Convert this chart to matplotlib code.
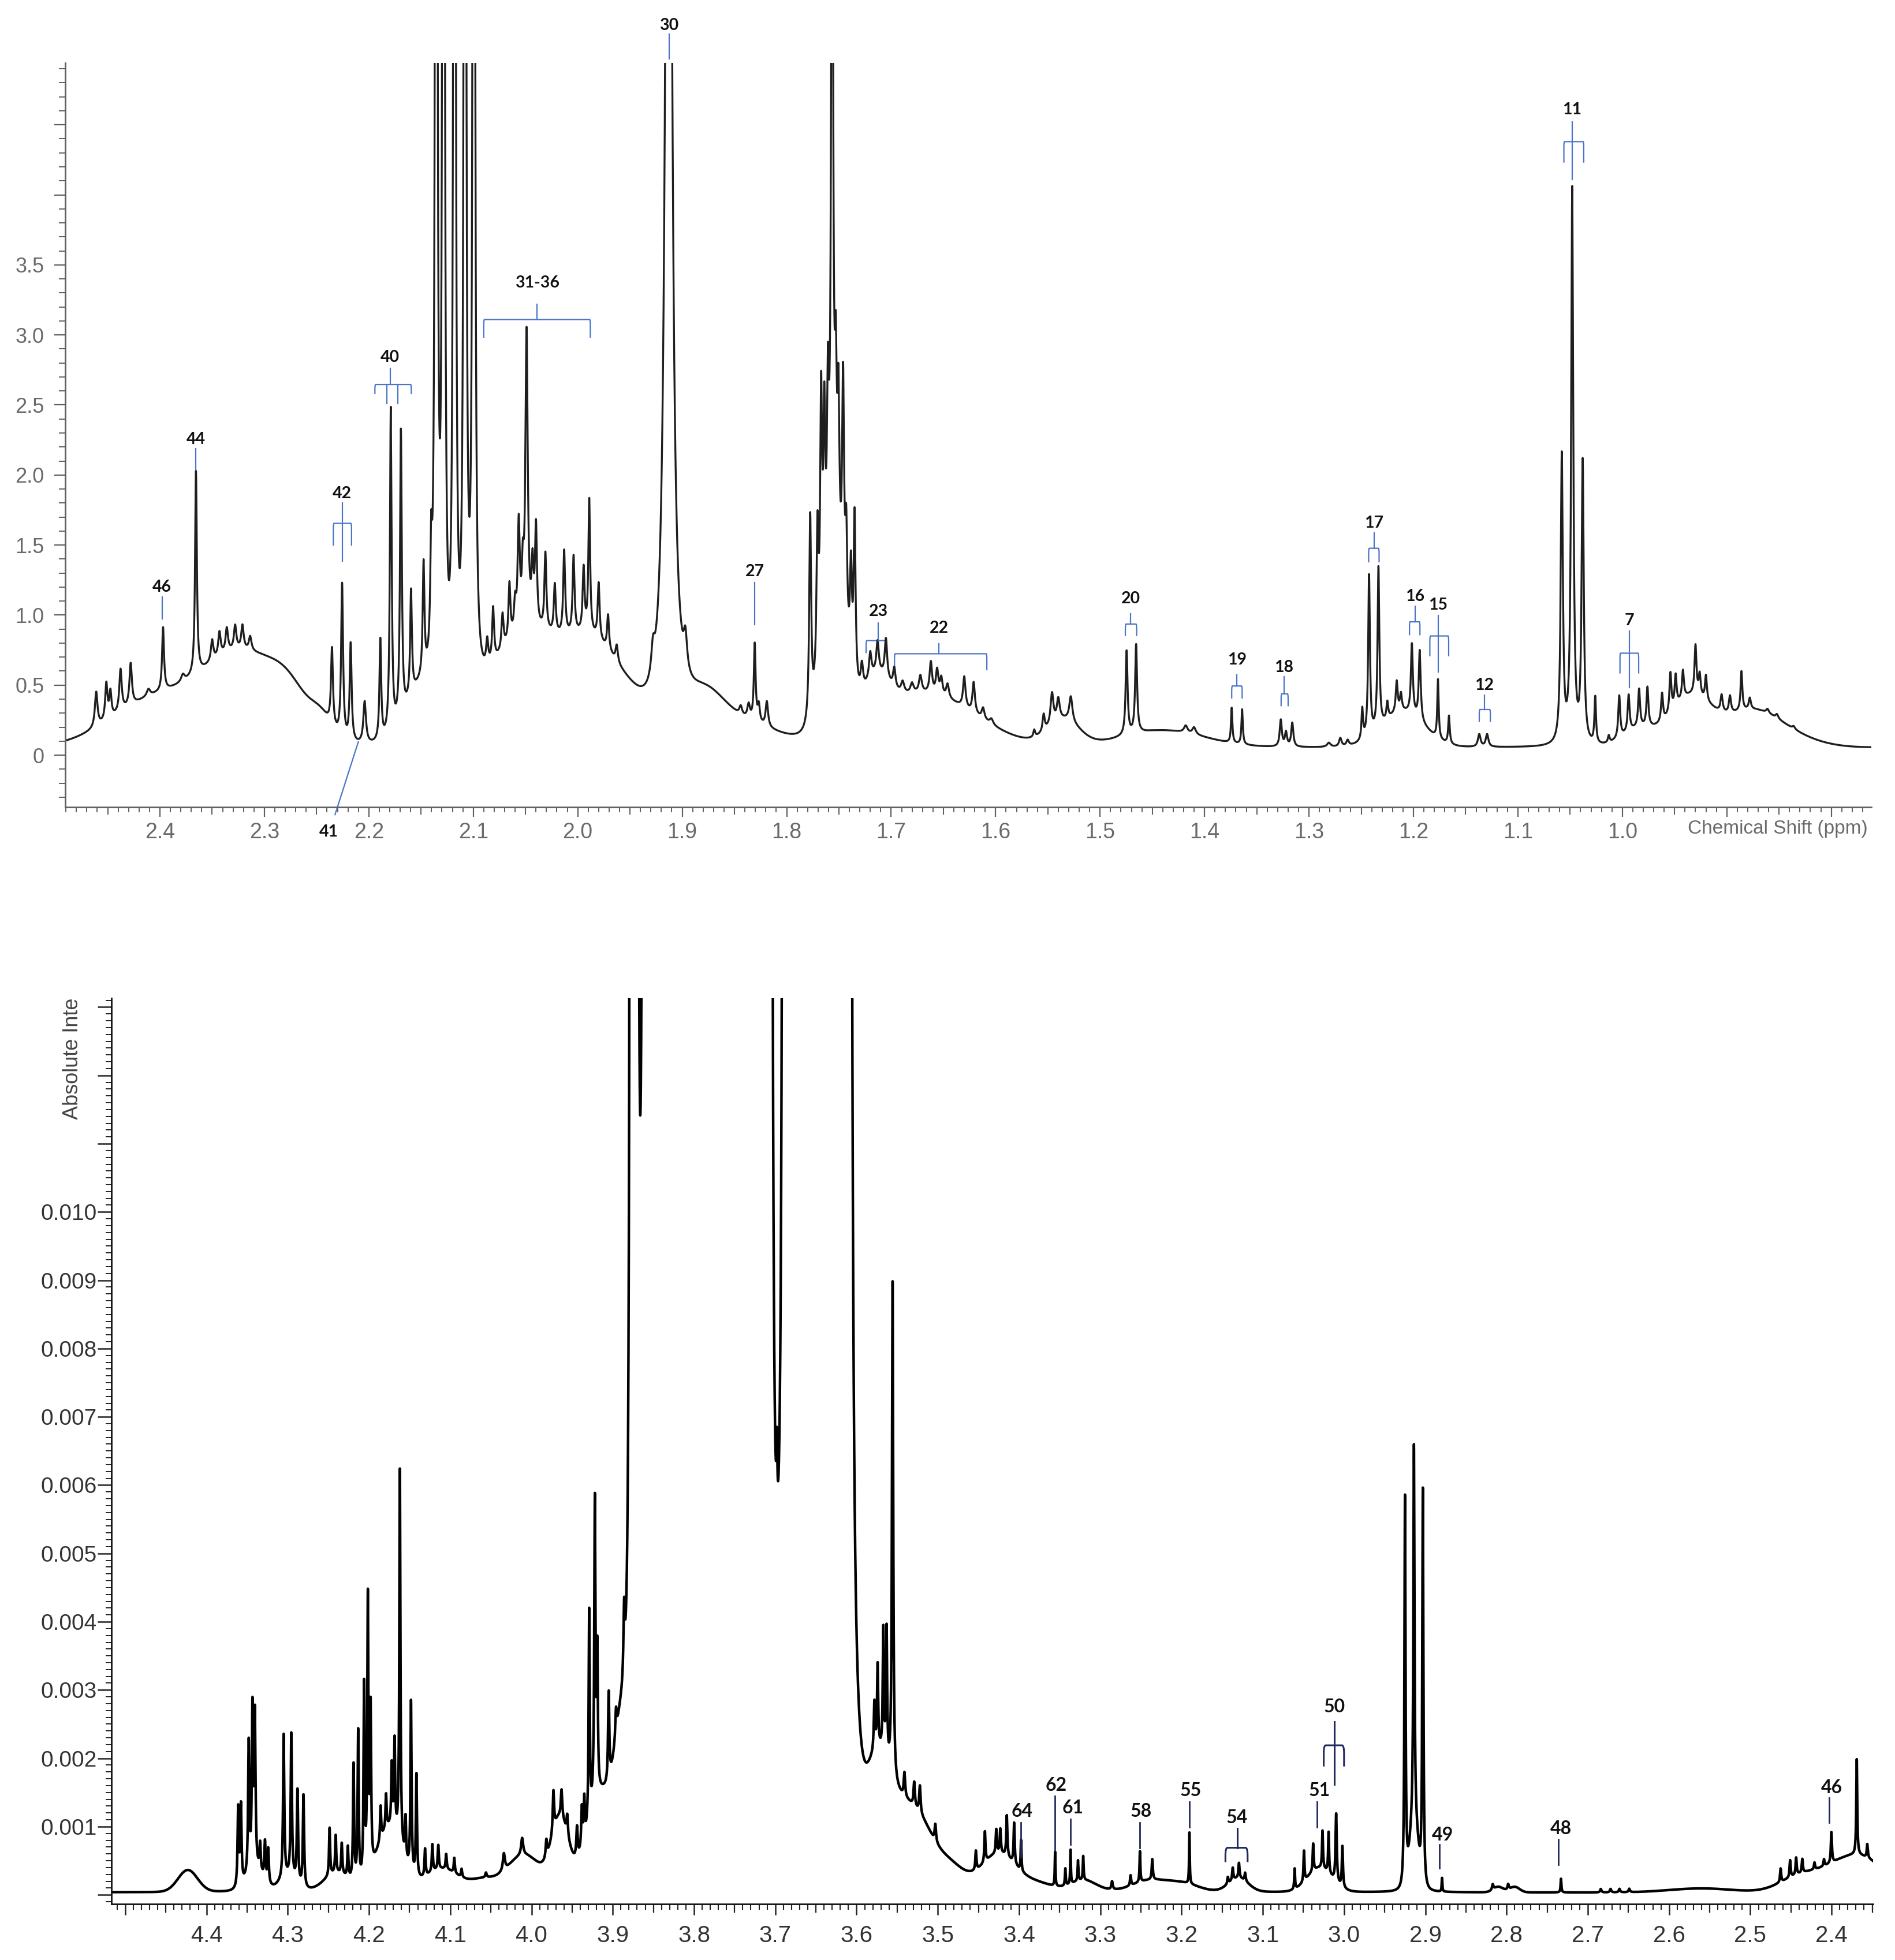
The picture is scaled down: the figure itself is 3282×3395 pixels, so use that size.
import numpy as np
import matplotlib
matplotlib.use("Agg")
import matplotlib.pyplot as plt
from matplotlib.path import Path
from matplotlib.patches import PathPatch
from matplotlib.ticker import MultipleLocator, FixedLocator, FuncFormatter, NullFormatter

plt.rcParams["font.family"] = ["Liberation Sans", "DejaVu Sans"]

# ================= top panel: 0.76 - 2.49 ppm =================
top_offset = 0.055
# broad underlying resonances (ppm, height, sigma)
top_broad = [(2.40, 0.35, 0.045), (2.32, 0.60, 0.035), (2.275, 0.25, 0.02),
             (2.245, 0.12, 0.01),
             (2.15, 0.35, 0.015), (2.045, 0.80, 0.04), (1.99, 0.30, 0.02),
             (1.96, 0.35, 0.025), (1.88, 0.30, 0.02), (1.84, 0.15, 0.03),
             (1.755, 1.10, 0.010),
             (1.715, 0.25, 0.012), (1.67, 0.38, 0.05), (1.535, 0.18, 0.015),
             (1.44, 0.12, 0.04), (1.21, 0.25, 0.02), (0.985, 0.12, 0.015),
             (0.935, 0.35, 0.02), (0.88, 0.20, 0.025), (0.85, 0.10, 0.03)]
# sharp lines (ppm, height, half width)
top_lines_24 = [(2.461, 0.25, 0.0015), (2.4513, 0.26, 0.0013), (2.4474, 0.18, 0.0012),
                (2.4377, 0.30, 0.0014), (2.428, 0.30, 0.0014), (2.411, 0.05, 0.002),
                (2.397, 0.45, 0.0011), (2.378, 0.05, 0.002), (2.3655, 1.45, 0.0010),
                (2.350, 0.15, 0.0014), (2.343, 0.17, 0.0014), (2.336, 0.17, 0.0014),
                (2.328, 0.17, 0.0014), (2.321, 0.17, 0.0014), (2.3136, 0.10, 0.0015)]
top_lines_22 = [(2.2353, 0.55, 0.0011), (2.2256, 1.10, 0.0011), (2.2174, 0.70, 0.0011),
                (2.204, 0.30, 0.0015), (2.189, 0.72, 0.0010), (2.179, 2.32, 0.0010),
                (2.1693, 2.05, 0.0010), (2.1596, 0.75, 0.0010), (2.1476, 0.80, 0.0010),
                (2.1403, 0.70, 0.0010), (2.1355, 20, 0.00077), (2.1285, 20, 0.00077),
                (2.118, 20, 0.00077), (2.108, 20, 0.00077), (2.0995, 20, 0.00077)]
top_lines_20 = [(2.0867, 0.18, 0.0012), (2.081, 0.38, 0.0011), (2.072, 0.25, 0.0012),
                (2.0654, 0.40, 0.0011), (2.060, 0.20, 0.0012), (2.0565, 0.75, 0.0012),
                (2.0526, 0.35, 0.0011), (2.049, 2.1, 0.0013), (2.0433, 0.40, 0.0011),
                (2.040, 0.70, 0.0011), (2.031, 0.55, 0.0011), (2.022, 0.35, 0.0011),
                (2.013, 0.60, 0.0011), (2.004, 0.55, 0.0011), (1.9944, 0.45, 0.0011),
                (1.989, 0.95, 0.0010), (1.980, 0.40, 0.0011), (1.971, 0.25, 0.0011),
                (1.9627, 0.12, 0.0013), (1.928, 0.20, 0.002), (1.913, 11.4, 0.0029),
                (1.897, 0.25, 0.002)]
top_lines_18 = [(1.844, 0.06, 0.0015), (1.8364, 0.10, 0.0015), (1.8306, 0.55, 0.0010),
                (1.8267, 0.12, 0.0012), (1.819, 0.18, 0.0014), (1.7775, 1.45, 0.0011),
                (1.7705, 1.0, 0.0011), (1.767, 1.7, 0.0011), (1.764, 1.3, 0.0011),
                (1.7605, 1.2, 0.0011), (1.7565, 6.0, 0.0011), (1.753, 1.1, 0.0011),
                (1.7505, 1.1, 0.0011), (1.746, 1.6, 0.0011), (1.743, 0.7, 0.0011),
                (1.7385, 0.7, 0.0011), (1.735, 1.2, 0.0011)]
top_lines_16 = [(1.728, 0.18, 0.0014), (1.720, 0.18, 0.0014), (1.713, 0.22, 0.0014),
                (1.705, 0.28, 0.0014), (1.697, 0.14, 0.0014), (1.689, 0.08, 0.0018),
                (1.680, 0.07, 0.0018), (1.672, 0.12, 0.0016), (1.662, 0.22, 0.0014),
                (1.656, 0.17, 0.0014), (1.652, 0.12, 0.0014), (1.646, 0.10, 0.0016),
                (1.630, 0.22, 0.0014), (1.621, 0.22, 0.0014), (1.612, 0.08, 0.0016),
                (1.604, 0.04, 0.002), (1.563, 0.05, 0.001), (1.554, 0.12, 0.0012),
                (1.546, 0.22, 0.0016), (1.540, 0.15, 0.0016), (1.528, 0.18, 0.0018)]
top_lines_14 = [(1.4746, 0.60, 0.0011), (1.4655, 0.63, 0.0011), (1.418, 0.05, 0.002),
                (1.410, 0.05, 0.002), (1.374, 0.25, 0.0008), (1.364, 0.25, 0.0008),
                (1.327, 0.19, 0.0012), (1.322, 0.10, 0.0012), (1.316, 0.17, 0.0012),
                (1.281, 0.03, 0.002), (1.270, 0.06, 0.0014), (1.263, 0.04, 0.0014)]
top_lines_12 = [(1.249, 0.22, 0.0009), (1.2425, 1.15, 0.0010), (1.2335, 1.15, 0.0010),
                (1.225, 0.12, 0.0010), (1.216, 0.22, 0.0011), (1.212, 0.12, 0.0011),
                (1.2015, 0.50, 0.0011), (1.194, 0.50, 0.0011), (1.1765, 0.42, 0.0008),
                (1.166, 0.20, 0.0009), (1.137, 0.09, 0.0015), (1.1295, 0.09, 0.0015)]
top_lines_10 = [(1.058, 2.05, 0.0012), (1.048, 3.95, 0.0012), (1.038, 2.0, 0.0012),
                (1.026, 0.33, 0.0009), (1.013, 0.05, 0.001), (1.003, 0.30, 0.0011),
                (0.994, 0.26, 0.0011), (0.984, 0.27, 0.0011), (0.976, 0.28, 0.0011),
                (0.962, 0.20, 0.0011), (0.954, 0.28, 0.0011), (0.949, 0.22, 0.0011),
                (0.942, 0.20, 0.0011), (0.930, 0.35, 0.0011), (0.926, 0.15, 0.0011),
                (0.920, 0.18, 0.0011), (0.905, 0.12, 0.0012), (0.897, 0.12, 0.0012),
                (0.886, 0.28, 0.0010), (0.878, 0.08, 0.0012), (0.861, 0.03, 0.0015),
                (0.852, 0.03, 0.0015), (0.836, 0.02, 0.0015)]

# annotations top: (label, ppm, label_y, line_top, line_bottom)
top_ticks = [("46", 2.398, 1.20, 1.13, 0.974), ("44", 2.3655, 2.254, 2.187, 2.035),
             ("27", 1.8306, 1.309, 1.231, 0.93), ("30", 1.9125, 5.21, 5.15, 4.97)]
# (label, x_left, x_right, x_stem, y_bar, y_leg, stem_top, stem_bottom, label_y)
top_brackets = [("42", 2.234, 2.2166, 2.2256, 1.655, 1.495, 1.80, 1.387, 1.868),
                ("40", 2.1942, 2.1594, 2.1797, 2.646, 2.578, 2.76, 2.646, 2.84),
                ("31-36", 2.09, 1.988, 2.039, 3.11, 2.98, 3.22, 3.11, 3.37),
                ("23", 1.724, 1.7046, 1.7123, 0.818, 0.728, 0.945, 0.818, 1.025),
                ("22", 1.6968, 1.6084, 1.6542, 0.724, 0.606, 0.795, 0.724, 0.907),
                ("20", 1.4758, 1.465, 1.4707, 0.936, 0.851, 1.008, 0.936, 1.119),
                ("19", 1.374, 1.364, 1.369, 0.494, 0.404, 0.572, 0.494, 0.679),
                ("18", 1.3267, 1.320, 1.3239, 0.438, 0.349, 0.561, 0.438, 0.628),
                ("17", 1.2429, 1.2329, 1.2377, 1.477, 1.376, 1.588, 1.477, 1.656),
                ("16", 1.2038, 1.1938, 1.1986, 0.952, 0.856, 1.064, 0.952, 1.135),
                ("15", 1.1843, 1.1663, 1.1763, 0.851, 0.706, 0.996, 0.594, 1.07),
                ("12", 1.137, 1.1264, 1.132, 0.326, 0.237, 0.427, 0.326, 0.498),
                ("11", 1.056, 1.037, 1.048, 4.38, 4.23, 4.52, 4.11, 4.61),
                ("7", 1.0023, 0.9844, 0.9935, 0.728, 0.583, 0.885, 0.483, 0.959)]
top_inner_legs = [(2.1826, 2.646, 2.51), (2.1721, 2.646, 2.51)]
label41 = ("41", 2.2386, -0.55, (2.2324, -0.425), (2.2101, 0.095))

# ================= bottom panel: 2.35 - 4.52 ppm (values in 0.001) =================
bot_offset = 0.03
bot_broad = [(4.423, 0.32, 0.012), (4.34, 0.30, 0.01), (4.30, 0.20, 0.01),
             (4.24, 0.25, 0.015), (4.175, 0.9, 0.015), (4.11, 0.30, 0.02),
             (4.06, 0.12, 0.015), (4.01, 0.45, 0.02), (3.965, 0.9, 0.01),
             (3.915, 1.0, 0.015), (3.89, 1.2, 0.008), (3.575, 1.0, 0.012),
             (3.55, 1.0, 0.02), (3.52, 0.5, 0.015), (3.49, 0.35, 0.02),
             (3.425, 0.5, 0.02), (3.38, 0.1, 0.02), (3.32, 0.15, 0.015),
             (3.24, 0.15, 0.02), (3.20, 0.12, 0.02), (3.13, 0.2, 0.012),
             (3.03, 0.35, 0.015), (2.914, 1.0, 0.005), (2.81, 0.08, 0.006),
             (2.79, 0.08, 0.006), (2.56, 0.06, 0.04), (2.44, 0.2, 0.025),
             (2.37, 0.55, 0.035)]
bot_lines_43 = [(4.361, 1.15, 0.0009), (4.3576, 1.15, 0.0009), (4.348, 1.9, 0.0009),
                (4.3434, 2.3, 0.0009), (4.3404, 2.2, 0.0009), (4.334, 0.4, 0.0009),
                (4.328, 0.55, 0.0009), (4.324, 0.5, 0.0009), (4.305, 2.1, 0.0009),
                (4.2956, 2.1, 0.0009), (4.288, 1.35, 0.0009), (4.2806, 1.35, 0.0009)]
bot_lines_42 = [(4.2485, 0.7, 0.0008), (4.241, 0.55, 0.0008), (4.2335, 0.45, 0.0008),
                (4.226, 0.45, 0.0008), (4.219, 1.7, 0.0008), (4.2133, 2.2, 0.0008),
                (4.206, 2.8, 0.0008), (4.2014, 4.0, 0.0008), (4.198, 2.3, 0.0008),
                (4.1857, 0.5, 0.0008), (4.179, 0.5, 0.0008), (4.172, 0.9, 0.0008),
                (4.1685, 1.3, 0.0008), (4.162, 5.5, 0.0008), (4.155, 0.6, 0.0008),
                (4.1483, 2.5, 0.0008), (4.1416, 1.5, 0.0008), (4.131, 0.4, 0.0008),
                (4.122, 0.4, 0.0008), (4.1147, 0.35, 0.0008), (4.105, 0.22, 0.0008),
                (4.095, 0.22, 0.0008), (4.086, 0.12, 0.0008), (4.056, 0.07, 0.001)]
bot_lines_40 = [(4.034, 0.25, 0.0015), (4.0115, 0.25, 0.0015), (3.9817, 0.25, 0.001),
                (3.973, 0.6, 0.001), (3.963, 0.4, 0.001), (3.956, 0.3, 0.001),
                (3.944, 0.45, 0.001), (3.938, 0.6, 0.001), (3.935, 0.6, 0.0008),
                (3.929, 3.1, 0.0008), (3.922, 4.4, 0.0009), (3.919, 2.0, 0.0008),
                (3.905, 1.3, 0.0009), (3.896, 0.4, 0.001), (3.886, 1.0, 0.001)]
# off-scale envelope 3.88 - 3.61
bot_lines_38 = [(3.8775, 80, 0.0008), (3.871, 76, 0.0012), (3.861, 76, 0.0012),
                (3.8535, 150, 0.0012), (3.8465, 150, 0.0012), (3.8365, 150, 0.0012),
                (3.8265, 150, 0.0012), (3.8165, 150, 0.0012), (3.8065, 150, 0.0012),
                (3.7965, 150, 0.0012), (3.7865, 150, 0.0012), (3.7765, 150, 0.0012),
                (3.7665, 150, 0.0012), (3.7565, 150, 0.0012), (3.7465, 150, 0.0012),
                (3.7365, 150, 0.0012), (3.7265, 150, 0.0012), (3.7165, 150, 0.0012),
                (3.7065, 190, 0.0008), (3.698, 1.1, 0.0007), (3.6885, 190, 0.0008),
                (3.6795, 150, 0.0012), (3.6695, 150, 0.0012), (3.6595, 150, 0.0012),
                (3.6495, 150, 0.0012), (3.6395, 150, 0.0012), (3.6295, 150, 0.0012),
                (3.6195, 150, 0.0012), (3.6095, 150, 0.0012)]
bot_lines_35 = [(3.578, 0.7, 0.0009), (3.574, 1.2, 0.0008), (3.567, 1.8, 0.0008),
                (3.563, 1.9, 0.0008), (3.5556, 7.3, 0.0009), (3.541, 0.35, 0.001),
                (3.529, 0.35, 0.001), (3.522, 0.4, 0.001), (3.503, 0.25, 0.001),
                (3.4531, 0.28, 0.0008), (3.442, 0.45, 0.0008), (3.428, 0.35, 0.0008),
                (3.423, 0.35, 0.0008), (3.415, 0.6, 0.0008), (3.406, 0.6, 0.0008),
                (3.3975, 0.45, 0.0006), (3.3556, 0.5, 0.0005), (3.343, 0.25, 0.0006),
                (3.3366, 0.5, 0.0005), (3.3274, 0.3, 0.0006), (3.321, 0.35, 0.0006)]
bot_lines_32 = [(3.2855, 0.12, 0.001), (3.2627, 0.15, 0.0008), (3.2512, 0.45, 0.0006),
                (3.236, 0.3, 0.0008), (3.1903, 0.75, 0.0005), (3.143, 0.1, 0.0008),
                (3.137, 0.18, 0.0008), (3.1293, 0.22, 0.0008), (3.1217, 0.12, 0.0008),
                (3.0608, 0.3, 0.0006), (3.0493, 0.45, 0.0007), (3.038, 0.4, 0.0007),
                (3.0265, 0.55, 0.0007), (3.019, 0.6, 0.0007), (3.0097, 1.0, 0.0009),
                (3.002, 0.6, 0.0008)]
bot_lines_29 = [(2.925, 5.7, 0.0008), (2.914, 5.5, 0.0008), (2.903, 5.8, 0.0008),
                (2.8794, 0.2, 0.0005), (2.817, 0.08, 0.001), (2.798, 0.08, 0.001),
                (2.733, 0.2, 0.0006), (2.684, 0.05, 0.001), (2.672, 0.05, 0.001),
                (2.661, 0.05, 0.001), (2.649, 0.05, 0.001), (2.4627, 0.2, 0.0008),
                (2.451, 0.25, 0.0008), (2.4436, 0.25, 0.0008), (2.436, 0.2, 0.0008),
                (2.421, 0.1, 0.0008), (2.4093, 0.1, 0.0008), (2.4002, 0.45, 0.0008),
                (2.369, 1.4, 0.0007), (2.356, 0.2, 0.0008)]

# (label, line_ppm, label_ppm, label_y, line_top, line_bottom), y in 0.001
bot_ticks = [("64", 3.3975, 3.396, 1.22, 1.06, 0.55), ("62", 3.3556, 3.354, 1.60, 1.45, 0.65),
             ("61", 3.337, 3.3335, 1.27, 1.11, 0.74), ("58", 3.2512, 3.2497, 1.22, 1.06, 0.69),
             ("55", 3.1903, 3.189, 1.53, 1.36, 0.99), ("51", 3.0333, 3.030, 1.53, 1.36, 0.99),
             ("49", 2.8825, 2.879, 0.88, 0.74, 0.39), ("48", 2.736, 2.733, 0.97, 0.81, 0.44),
             ("46", 2.403, 2.400, 1.57, 1.42, 1.06)]
bot_brackets = [("54", 3.146, 3.1187, 3.1316, 0.69, 0.48, 0.97, 0.69, 1.13),
                ("50", 3.025, 3.000, 3.012, 2.19, 1.88, 2.54, 1.62, 2.75)]

TOP_BLUE = "#4a74c9"
BOT_BLUE = "#1f2a5c"


def spectrum(ppm, offset, broad, lines):
    y = np.full_like(ppm, offset)
    for c, h, s in broad:
        y += h * np.exp(-0.5 * ((ppm - c) / s) ** 2)
    for c, h, w in lines:
        y += h * w * w / ((ppm - c) ** 2 + w * w)
    return y


def draw_bracket(ax, xl, xr, y_bar, y_leg, color, lw, rx, ry):
    verts = [(xl, y_leg), (xl, y_bar - ry), (xl, y_bar), (xl - rx, y_bar),
             (xr + rx, y_bar), (xr, y_bar), (xr, y_bar - ry), (xr, y_leg)]
    codes = [Path.MOVETO, Path.LINETO, Path.CURVE3, Path.CURVE3,
             Path.LINETO, Path.CURVE3, Path.CURVE3, Path.LINETO]
    ax.add_patch(PathPatch(Path(verts, codes), fill=False, edgecolor=color, lw=lw,
                           clip_on=False, capstyle="butt"))


def style_axis(ax, spine_color):
    for s in ["top", "right"]:
        ax.spines[s].set_visible(False)
    for s in ["left", "bottom"]:
        ax.spines[s].set_color(spine_color)
        ax.spines[s].set_linewidth(2.0)


fig = plt.figure(figsize=(32.82, 33.95), dpi=100)

# ---------------- top panel ----------------
ax1 = fig.add_axes([0.0344, 0.5882, 0.9531, 0.3797])
x1 = np.linspace(0.7617, 2.4907, 40000)
y1 = spectrum(x1, top_offset, top_broad,
              top_lines_24 + top_lines_22 + top_lines_20 + top_lines_18 +
              top_lines_16 + top_lines_14 + top_lines_12 + top_lines_10)
ax1.plot(x1, y1, color="#1e1e1e", lw=2.4)
ax1.set_xlim(2.4907, 0.7617)
ax1.set_ylim(-0.371, 4.942)
style_axis(ax1, "#606060")

ax1.xaxis.set_major_locator(MultipleLocator(0.1))
ax1.xaxis.set_minor_locator(MultipleLocator(0.01))
ax1.xaxis.set_major_formatter(FuncFormatter(lambda v, p: f"{v:.1f}" if 0.99 < v < 2.41 else ""))
ax1.yaxis.set_major_locator(FixedLocator(np.arange(0, 4.6, 0.5)))
ax1.yaxis.set_minor_locator(MultipleLocator(0.1))
ax1.yaxis.set_major_formatter(FuncFormatter(
    lambda v, p: ("0" if abs(v) < 1e-9 else f"{v:.1f}") if v < 3.6 else ""))
ax1.tick_params(axis="x", which="major", length=12, width=1.6, pad=7, labelsize=27,
                color="#606060", labelcolor="#6a6a6a")
ax1.tick_params(axis="x", which="minor", length=6.5, width=1.4, color="#606060")
ax1.tick_params(axis="y", which="major", length=14, width=1.6, pad=12, labelsize=26,
                color="#606060", labelcolor="#6a6a6a")
ax1.tick_params(axis="y", which="minor", length=8, width=1.4, color="#606060")
sec1 = ax1.secondary_xaxis("bottom")
sec1.set_xticks(np.arange(0.85, 2.5, 0.1))
sec1.xaxis.set_major_formatter(NullFormatter())
sec1.tick_params(length=9.5, width=1.5, color="#606060")
sec1.spines["bottom"].set_visible(False)

ax1.annotate("Chemical Shift (ppm)", xy=(0.998, 0), xycoords="axes fraction",
             xytext=(0, -27), textcoords="offset points", ha="right", va="center",
             fontsize=24, color="#6a6a6a")

lab_kw1 = dict(ha="center", va="center", fontsize=20.5, fontweight="bold",
               family=["Lato", "DejaVu Sans"], color="#111111")
for name, x, ly, yt, yb in top_ticks:
    ax1.plot([x, x], [yb, yt], color=TOP_BLUE, lw=1.6, clip_on=False)
    ax1.text(x, ly, name, **lab_kw1)
for name, xl, xr, xs, yb, yl, st, sb, ly in top_brackets:
    draw_bracket(ax1, xl, xr, yb, yl, TOP_BLUE, 1.6, 0.0006, 0.04)
    ax1.plot([xs, xs], [sb, st], color=TOP_BLUE, lw=1.6, clip_on=False)
    ax1.text(xs, ly, name, **lab_kw1)
for x, yt, yb in top_inner_legs:
    ax1.plot([x, x], [yb, yt], color=TOP_BLUE, lw=1.6)
name, lx, ly, p0, p1 = label41
ax1.plot([p0[0], p1[0]], [p0[1], p1[1]], color=TOP_BLUE, lw=1.6, clip_on=False)
ax1.text(lx, ly, name, **lab_kw1)

# ---------------- bottom panel ----------------
MILLI = 1e-3
ax2 = fig.add_axes([0.0588, 0.0286, 0.9296, 0.4621])
x2 = np.linspace(2.349, 4.517, 45000)
y2 = spectrum(x2, bot_offset, bot_broad,
              bot_lines_43 + bot_lines_42 + bot_lines_40 + bot_lines_38 +
              bot_lines_35 + bot_lines_32 + bot_lines_29) * MILLI
ax2.plot(x2, y2, color="#000000", lw=3.2)
ax2.set_xlim(4.517, 2.349)
ax2.set_ylim(-0.000133, 0.01313)
style_axis(ax2, "#111111")

ax2.xaxis.set_major_locator(MultipleLocator(0.1))
ax2.xaxis.set_minor_locator(MultipleLocator(0.01))
ax2.xaxis.set_major_formatter(FuncFormatter(lambda v, p: f"{v:.1f}" if 2.35 < v < 4.45 else ""))
ax2.yaxis.set_major_locator(MultipleLocator(0.001))
ax2.yaxis.set_minor_locator(MultipleLocator(0.0001))
ax2.yaxis.set_major_formatter(FuncFormatter(
    lambda v, p: f"{v:.3f}" if 0.0005 < v < 0.0105 else ""))
ax2.tick_params(axis="x", which="major", length=14, width=1.8, pad=12, labelsize=29,
                color="#222222", labelcolor="#333333")
ax2.tick_params(axis="x", which="minor", length=7, width=1.5, color="#222222")
ax2.tick_params(axis="y", which="major", length=17, width=1.8, pad=1, labelsize=28,
                color="#222222", labelcolor="#333333")
ax2.tick_params(axis="y", which="minor", length=7, width=1.4, color="#222222")
sec2 = ax2.secondary_xaxis("bottom")
sec2.set_xticks(np.arange(2.35, 4.55, 0.1))
sec2.xaxis.set_major_formatter(NullFormatter())
sec2.tick_params(length=10.5, width=1.6, color="#222222")
sec2.spines["bottom"].set_visible(False)

ax2.text(-0.022, 1.0, "Absolute Inte", transform=ax2.transAxes, rotation=90,
         ha="center", va="top", fontsize=26, color="#444444")

lab_kw2 = dict(ha="center", va="center", fontsize=23, fontweight="bold",
               family=["Lato", "DejaVu Sans"], color="#111111")
for name, x, lx, ly, yt, yb in bot_ticks:
    ax2.plot([x, x], [yb * MILLI, yt * MILLI], color=BOT_BLUE, lw=2.0)
    ax2.text(lx, ly * MILLI, name, **lab_kw2)
for name, xl, xr, xs, yb, yl, st, sb, ly in bot_brackets:
    draw_bracket(ax2, xl, xr, yb * MILLI, yl * MILLI, BOT_BLUE, 2.2, 0.0025, 0.00012)
    ax2.plot([xs, xs], [sb * MILLI, st * MILLI], color=BOT_BLUE, lw=2.2)
    ax2.text(xs, ly * MILLI, name, **lab_kw2)

fig.savefig("out.png", dpi=100)
